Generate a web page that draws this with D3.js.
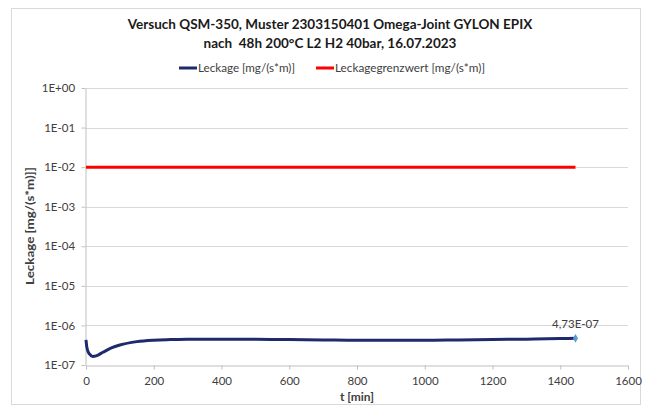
<!DOCTYPE html>
<html><head><meta charset="utf-8">
<script src="https://cdn.jsdelivr.net/npm/d3@7"></script>
<style>body{margin:0;background:#fff;} svg{display:block;font-family:Lato,"Open Sans",sans-serif;} text{white-space:pre;}</style>
</head><body><svg id="c" width="650" height="412"></svg>
<script>
const titleLines = ["Versuch QSM-350, Muster 2303150401 Omega-Joint GYLON EPIX", "nach  48h 200°C L2 H2 40bar, 16.07.2023"];
const seriesNames = ["Leckage [mg/(s*m)]", "Leckagegrenzwert [mg/(s*m)]"];
const tMin = [0, 2, 5, 10, 20, 30, 50, 75, 100, 150, 200, 250, 300, 400, 500, 600, 700, 800, 900, 1000, 1100, 1200, 1300, 1400, 1445];
const leckage = [4.3e-7, 3.0e-7, 2.3e-7, 1.9e-7, 1.65e-7, 1.7e-7, 2.1e-7, 2.7e-7, 3.2e-7, 3.9e-7, 4.25e-7, 4.4e-7, 4.5e-7, 4.5e-7, 4.5e-7, 4.4e-7, 4.3e-7, 4.2e-7, 4.2e-7, 4.2e-7, 4.3e-7, 4.4e-7, 4.5e-7, 4.65e-7, 4.73e-7];
const grenzT = [0, 1445];
const grenzwert = [1e-2, 1e-2];
const xTicks = [0, 200, 400, 600, 800, 1000, 1200, 1400, 1600];
const yTicks = [1, 1e-1, 1e-2, 1e-3, 1e-4, 1e-5, 1e-6, 1e-7];
const yTickLabels = ["1E+00", "1E-01", "1E-02", "1E-03", "1E-04", "1E-05", "1E-06", "1E-07"];
const endLabel = "4,73E-07";

const svg = d3.select("#c");
svg.append("rect").attr("x", 11.5).attr("y", 8.5).attr("width", 629).attr("height", 396).attr("fill", "#fff").attr("stroke", "#d9d9d9");

const x = d3.scaleLinear().domain([0, 1600]).range([86, 628]);
const y = d3.scaleLog().domain([1e-7, 1]).range([365, 88]);

// grid
svg.append("g").selectAll("line").data(yTicks.slice(0, -1)).join("line")
  .attr("x1", 86).attr("x2", 628).attr("y1", d => Math.round(y(d)) + 0.5).attr("y2", d => Math.round(y(d)) + 0.5)
  .attr("stroke", "#d9d9d9");

const gx = svg.append("g").attr("transform", `translate(0,${365.5})`)
  .call(d3.axisBottom(x).tickValues(xTicks).tickFormat(d3.format("d")).tickSize(4).tickSizeOuter(0));
const gy = svg.append("g").attr("transform", `translate(${85.5},0)`)
  .call(d3.axisLeft(y).tickValues(yTicks).tickFormat((d, i) => yTickLabels[i]).tickSize(4).tickSizeOuter(0));
[gx, gy].forEach(g => {
  g.select(".domain").attr("stroke", "#bfbfbf");
  g.selectAll(".tick line").attr("stroke", "#bfbfbf");
  g.selectAll(".tick text").attr("fill", "#404040").style("font-size", "11.5px").style("font-family", "Lato, sans-serif");
});
gx.selectAll(".tick text").attr("dy", "1.1em");
gy.selectAll(".tick text").attr("dx", "-0.3em");

const line = d3.line().x(d => x(d[0])).y(d => y(d[1])).curve(d3.curveMonotoneX);
svg.append("path").datum(grenzT.map((t, i) => [t, grenzwert[i]])).attr("d", line)
  .attr("fill", "none").attr("stroke", "#ff0000").attr("stroke-width", 3);
svg.append("path").datum(tMin.map((t, i) => [t, leckage[i]])).attr("d", line)
  .attr("fill", "none").attr("stroke", "#1f2a6e").attr("stroke-width", 3);

const lastT = tMin[tMin.length - 1], lastV = leckage[leckage.length - 1];
svg.append("path").attr("d", d3.symbol(d3.symbolDiamond, 22)())
  .attr("transform", `translate(${x(lastT)},${y(lastV)})`).attr("fill", "#5b9bd5");
svg.append("text").attr("x", x(lastT)).attr("y", y(lastV) - 10).attr("text-anchor", "middle")
  .attr("fill", "#404040").style("font-size", "11.5px").text(endLabel);

// title
svg.selectAll(".title").data(titleLines).join("text").attr("class", "title")
  .attr("x", 330).attr("y", (d, i) => 29 + i * 19).attr("text-anchor", "middle")
  .attr("fill", "#1a1a1a").style("font-size", "13.5px").style("font-weight", "bold").text(d => d);

// legend
const leg = [{x: 179, c: "#1f2a6e", w: 97}, {x: 316, c: "#ff0000", w: 150}];
leg.forEach((l, i) => {
  svg.append("line").attr("x1", l.x).attr("x2", l.x + 18).attr("y1", 68).attr("y2", 68).attr("stroke", l.c).attr("stroke-width", 3);
  svg.append("text").attr("x", l.x + 19).attr("y", 72).attr("fill", "#404040").style("font-size", "12px")
    .attr("textLength", l.w).attr("lengthAdjust", "spacingAndGlyphs").text(seriesNames[i]);
});

// axis titles
svg.append("text").attr("x", 357).attr("y", 401).attr("text-anchor", "middle").attr("fill", "#404040")
  .style("font-size", "12px").style("font-weight", "bold").text("t [min]");
svg.append("text").attr("transform", "translate(34,226) rotate(-90)").attr("text-anchor", "middle").attr("fill", "#404040")
  .style("font-size", "12px").style("font-weight", "bold").attr("textLength", 118).attr("lengthAdjust", "spacingAndGlyphs")
  .text("Leckage [mg/(s*m)]]");
</script></body></html>
